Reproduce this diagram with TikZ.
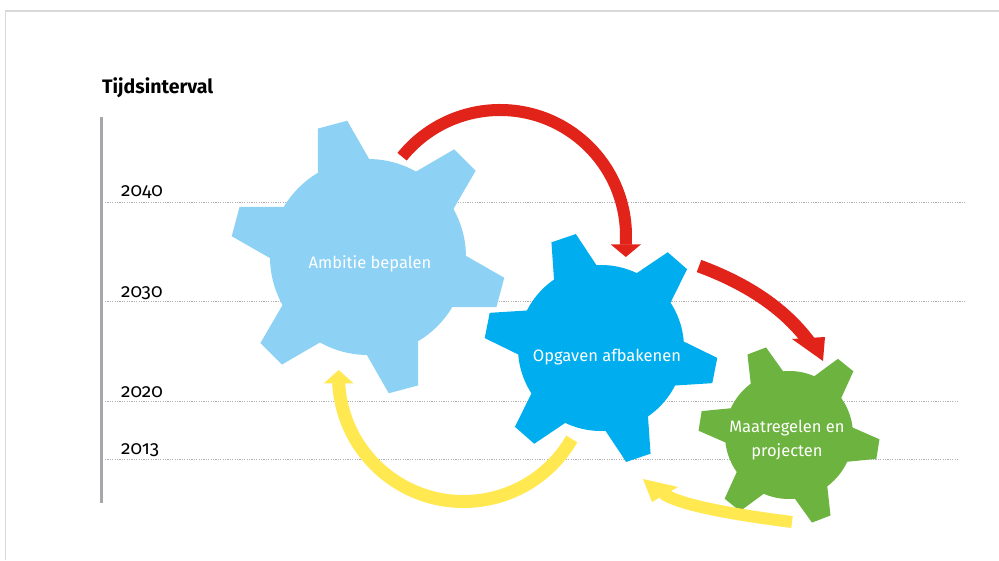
\documentclass[tikz,border=0pt]{standalone}
\usepackage{fontspec}
\setmainfont{Fira Sans}
\newfontfamily\yearfont{Fira Sans}[Numbers=OldStyle]
\usetikzlibrary{calc}
\definecolor{lblue}{HTML}{8DD2F4}
\definecolor{mblue}{HTML}{00AEEF}
\definecolor{gearg}{HTML}{6DB33F}
\definecolor{redc}{HTML}{E2231A}
\definecolor{yelc}{HTML}{FFE850}
\definecolor{bargray}{HTML}{A7A7AB}
\definecolor{dotgray}{HTML}{B0B0B0}
\definecolor{framegray}{HTML}{D9D9D9}
\newcommand\drawgear[6]{%
  \fill[#6] (#1,#2) circle (#3);
  \foreach \k in {0,...,5}{%
    \fill[#6, shift={(#1,#2)}, rotate={#5+60*\k}]
      ({0.85*#3},{-0.30*#3}) -- ({#4},{-0.155*#3}) -- ({#4},{0.155*#3}) -- ({0.85*#3},{0.30*#3}) -- cycle;
  }}
\tikzset{
  yearlbl/.style={anchor=base west, inner sep=0pt, font=\yearfont\fontsize{19}{22}\selectfont, text=black},
  gridline/.style={dotgray, line width=1pt, dash pattern=on 1.2pt off 1.2pt},
  geartext/.style={text=white, font=\fontsize{16.5}{24}\selectfont, align=center, inner sep=0pt},
  redarrow/.style={redc, line width=12pt},
  yelarrow/.style={yelc, line width=13pt}
}
\begin{document}
\begin{tikzpicture}[x=1pt,y=1pt]
\useasboundingbox (0,0) rectangle (999,560);
\fill[white] (0,0) rectangle (999,560);
% frame
\draw[framegray, line width=1.2pt] (5.5,0) -- (5.5,549) -- (999,549);
% title
\node[anchor=base west, inner sep=0pt, font=\bfseries\fontsize{19.5}{22}\selectfont] (title) at (102,466.5) {Tijdsinterval};
% time axis
\draw[bargray, line width=3pt] (101,443) coordinate (axtop) -- (101,57) coordinate (axbot);
% grid lines
\coordinate (g40a) at (105,357); \coordinate (g40b) at (965,357);
\coordinate (g30a) at (105,258); \coordinate (g30b) at (965,258);
\coordinate (g20a) at (105,158); \coordinate (g20b) at (959,158);
\coordinate (g13a) at (105,100); \coordinate (g13b) at (959,100);
\draw[gridline] (g40a) -- (g40b);
\draw[gridline] (g30a) -- (g30b);
\draw[gridline] (g20a) -- (g20b);
\draw[gridline] (g13a) -- (g13b);
\node[yearlbl] (y40) at (121,363.5) {2040};
\node[yearlbl] (y30) at (121,262.5) {2030};
\node[yearlbl] (y20) at (121,162.5) {2020};
\node[yearlbl] (y13) at (121,105) {2013};
% gears
\drawgear{368}{303}{98}{137}{45}{lblue}
\drawgear{601}{212}{83}{116}{48.8}{mblue}
\drawgear{789}{125}{64}{90}{51}{gearg}
\node[geartext] (t1) at (370,296) {Ambitie bepalen};
\node[geartext] (t2) at (607,203) {Opgaven afbakenen};
\node[geartext] (t3) at (787,120) {Maatregelen en\\projecten};
% red arrow 1
\coordinate (r1c) at (500,324);
\draw[redarrow] (r1c) ++(141:126) arc[start angle=141, end angle=-3, radius=126] -- ++(0,-2);
\fill[redc] (610.8,315.5) -- (640.8,315.5) -- (625.8,303) -- cycle;
% red arrow 2
\draw[redarrow, line width=13pt] (699,294) .. controls (749,275.6) and (786,249.9) .. (810,217);
\fill[redc] (792,221) -- (825,223) -- (823,199) -- cycle;
% yellow arrow 1
\coordinate (y1c) at (463.5,183.5);
\draw[yelarrow] (y1c) ++(-30:125) arc[start angle=-30, end angle=-177, radius=125];
\fill[yelc] (323.7,176.5) -- (353.7,176.5) -- (338.7,190) -- cycle;
% yellow arrow 2
\draw[yelarrow, line width=12pt] (792,38) .. controls (720.4,47.1) and (678.1,56.3) .. (663,66.5);
\fill[yelc] (678,73) -- (652,58) -- (643,81) -- cycle;
\end{tikzpicture}
\end{document}
